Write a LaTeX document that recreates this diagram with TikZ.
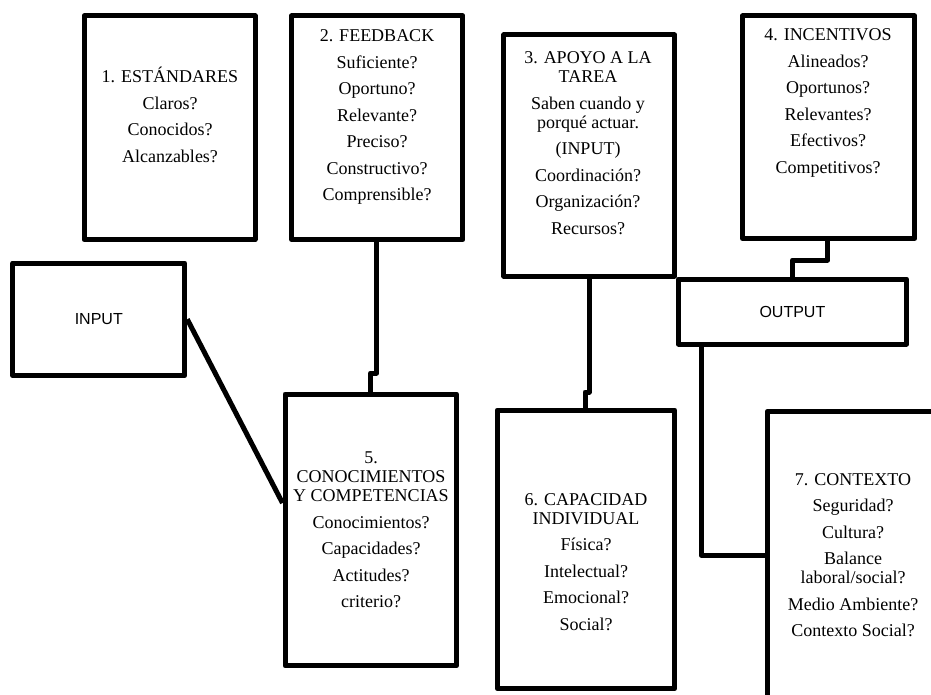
\documentclass[tikz,border=0pt]{standalone}
\usepackage{fontspec}
\setmainfont{Liberation Serif}
\newfontfamily\labsans{Liberation Sans}
\begin{document}
\begin{tikzpicture}[x=1pt,y=-1pt,
  box/.style={draw, line width=5pt, line join=round, inner sep=0pt},
  wire/.style={line width=5pt, line join=round},
  txt/.style={font=\fontsize{18}{19}\selectfont, align=center, inner sep=0pt},
  io/.style={box, font=\labsans\fontsize{16}{19}\selectfont}]
\useasboundingbox (0,0) rectangle (931,695);
\clip (0,0) rectangle (931,695);
\fill[white] (0,0) rectangle (931,695);

% boxes
\node[box, minimum width=171pt, minimum height=223.5pt] (b1) at (169.5,127.75) {};
\node[box, minimum width=171.3pt, minimum height=223.5pt] (b2) at (377.3,127.75) {};
\node[box, minimum width=170.7pt, minimum height=241pt] (b3) at (589.3,155.5) {};
\node[box, minimum width=172.2pt, minimum height=222.5pt] (b4) at (828.6,127.25) {};
\node[io, minimum width=171.9pt, minimum height=112.5pt] (inp) at (98.8,319.25) {INPUT};
\node[io, minimum width=228.2pt, minimum height=65pt] (out) at (792.4,311.5) {OUTPUT};
\node[box, minimum width=171.5pt, minimum height=271.8pt] (b5) at (370.75,529.9) {};
\node[box, minimum width=177.5pt, minimum height=278.7pt] (b6) at (586,549.35) {};
\node[box, minimum width=172pt, minimum height=310pt] (b7) at (853.5,566.2) {};

% texts
\node[txt] (t1) at (170,115) {1. ESTÁNDARES\\[7.5pt]Claros?\\[7.5pt]Conocidos?\\[7.5pt]Alcanzables?};
\node[txt] (t2) at (377,117) {2. FEEDBACK\\[7.5pt]Suficiente?\\[7.5pt]Oportuno?\\[7.5pt]Relevante?\\[7.5pt]Preciso?\\[7.5pt]Constructivo?\\[7.5pt]Comprensible?};
\node[txt] (t3) at (588,143) {3. APOYO A LA\\TAREA\\[7.5pt]Saben cuando y\\porqué actuar.\\[7.5pt](INPUT)\\[7.5pt]Coordinación?\\[7.5pt]Organización?\\[7.5pt]Recursos?};
\node[txt] (t4) at (828,103) {4. INCENTIVOS\\[7.5pt]Alineados?\\[7.5pt]Oportunos?\\[7.5pt]Relevantes?\\[7.5pt]Efectivos?\\[7.5pt]Competitivos?};
\node[txt] (t5) at (371,530) {5.\\CONOCIMIENTOS\\Y COMPETENCIAS\\[7.5pt]Conocimientos?\\[7.5pt]Capacidades?\\[7.5pt]Actitudes?\\[7.5pt]criterio?};
\node[txt] (t6) at (586,562) {6. CAPACIDAD\\INDIVIDUAL\\[7.5pt]Física?\\[7.5pt]Intelectual?\\[7.5pt]Emocional?\\[7.5pt]Social?};
\node[txt] (t7) at (853,555) {7. CONTEXTO\\[7.5pt]Seguridad?\\[7.5pt]Cultura?\\[7.5pt]Balance\\laboral/social?\\[7.5pt]Medio Ambiente?\\[7.5pt]Contexto Social?};

% connectors
\coordinate (j1) at (376.5,373);
\coordinate (j1b) at (370.5,373);
\coordinate (j2) at (589.3,392);
\coordinate (j2b) at (585,392);
\coordinate (j3) at (827.5,260);
\coordinate (j3b) at (792.5,260);
\coordinate (j4) at (701,555);
\draw[wire] (b2.south -| j1) -- (j1) -- (j1b) -- (b5.north -| j1b);
\draw[wire] (inp.east) -- (b5.west |- 0,503);
\draw[wire] (b3.south -| j2) -- (j2) -- (j2b) -- (b6.north -| j2b);
\draw[wire] (b4.south -| j3) -- (j3) -- (j3b) -- (out.north -| j3b);
\draw[wire] (out.south -| j4) -- (j4) -- (b7.west |- j4);
\end{tikzpicture}
\end{document}
